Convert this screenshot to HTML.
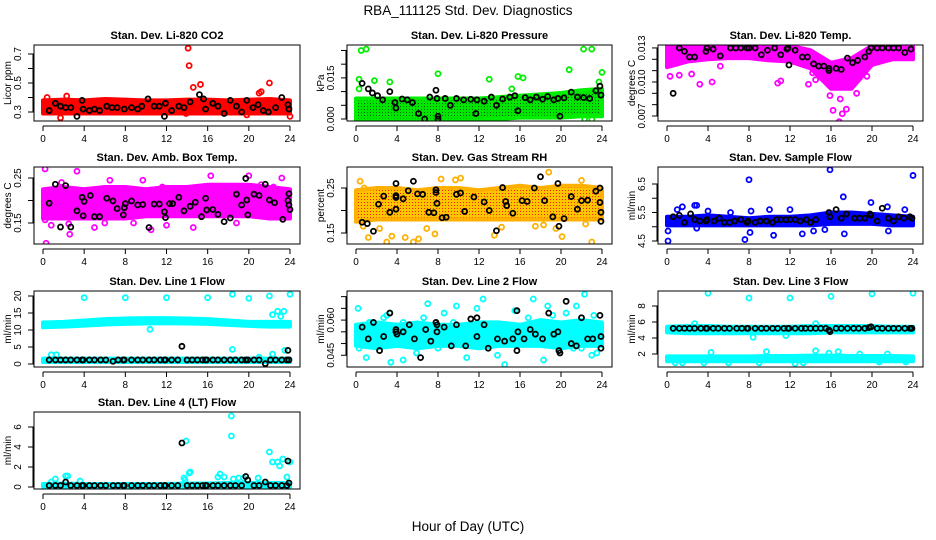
<!DOCTYPE html>
<html><head><meta charset="utf-8"><style>
html,body{margin:0;padding:0;background:#fff;}
svg{display:block;font-family:"Liberation Sans",Arial,sans-serif;}
</style></head><body>
<svg id="chart" width="936" height="540" viewBox="0 0 936 540">
<defs>
<pattern id="pat-green" width="3" height="3" patternUnits="userSpaceOnUse"><rect width="3" height="3" fill="#00e600"/><rect x="1" y="1" width="1" height="1" fill="#006600"/></pattern>
<pattern id="pat-rh" width="3" height="3" patternUnits="userSpaceOnUse"><rect width="3" height="3" fill="#ffc400"/><rect x="1" y="1" width="1" height="1" fill="#ff2000"/></pattern>
</defs>
<text x="468" y="15" font-size="13.5" text-anchor="middle">RBA_111125  Std. Dev. Diagnostics</text>
<text x="468" y="531" font-size="13.5" text-anchor="middle">Hour of Day (UTC)</text>
</svg>
<script>
const bandHours = [0,2,4,6,8,10,12,14,16,18,20,22,24];
const xTicks = [0,4,8,12,16,20,24];
const blackHours = [0.6,1.2,1.7,2.2,2.7,3.3,3.8,3.9,4.5,5.0,5.6,6.1,6.8,7.3,7.8,7.9,8.6,9.2,9.7,10.3,10.8,11.4,11.8,11.9,12.5,13.1,13.5,14.0,14.5,15.0,15.5,15.8,15.9,16.5,17.0,17.6,18.2,18.7,19.3,19.7,19.9,20.5,21.0,21.6,22.1,22.6,23.2,23.7,23.8,23.9];

// CO2
const co2Lo = [0.29,0.29,0.29,0.29,0.29,0.29,0.29,0.29,0.29,0.29,0.29,0.29,0.29];
const co2Hi = [0.38,0.385,0.38,0.39,0.385,0.38,0.38,0.385,0.385,0.38,0.385,0.39,0.38];
const co2OutX = [14.1,14.2,14.6,15.3,22.0,21.0,21.2,0.4,1.7,2.3,24.0,13.9,19.8];
const co2OutY = [0.74,0.62,0.47,0.49,0.50,0.43,0.44,0.40,0.26,0.41,0.27,0.29,0.28];
const co2BlkX = [0.6,1.2,1.7,2.2,2.7,3.3,3.8,3.9,4.5,5,5.5,6.2,6.7,7.2,7.9,8.6,9.2,9.6,10.2,10.8,11.3,11.8,11.9,12.5,13.2,13.7,14.3,15.2,15.6,15.8,16.5,17,17.6,18.2,18.8,19.3,19.8,20.4,20.9,21.4,21.9,22.6,23.2,23.8,23.9];
const co2BlkY = [0.31,0.36,0.34,0.33,0.33,0.27,0.38,0.32,0.31,0.32,0.31,0.34,0.33,0.33,0.32,0.33,0.32,0.34,0.39,0.34,0.34,0.27,0.36,0.31,0.34,0.33,0.37,0.42,0.39,0.32,0.36,0.34,0.29,0.38,0.34,0.30,0.38,0.33,0.35,0.31,0.30,0.33,0.40,0.35,0.32];

// Pressure
const presLo = [-0.0005,-0.0005,-0.0005,-0.0005,-0.0005,-0.0005,-0.0005,0.0,0.0005,0.0005,0.0005,0.001,0.001];
const presHi = [0.0075,0.0075,0.0075,0.0075,0.0075,0.0075,0.0075,0.008,0.0085,0.009,0.0095,0.0105,0.011];
const presOutX = [0.5,1.0,0.3,0.3,1.8,3.3,8.0,13.0,15.2,15.8,16.3,20.8,22.2,23.0,24.0,23.7,22.3,23.0];
const presOutY = [0.025,0.0255,0.0145,0.011,0.014,0.0135,0.0165,0.0145,0.011,0.0155,0.015,0.018,0.0255,0.0255,0.017,0.0135,0.0,0.0];
const presBlkX = [0.6,1.2,1.6,2.1,2.6,3.3,3.8,3.9,4.5,5.0,5.5,6.1,6.7,7.2,7.8,7.9,8.0,8.0,8.7,9.2,9.8,10.5,11.2,11.7,11.8,12.5,13.2,13.7,14.3,15.0,15.5,15.8,16.5,17.0,17.6,18.2,18.7,19.3,19.7,19.9,20.3,21.0,21.6,22.2,22.8,23.4,23.8,23.9];
const presBlkY = [0.013,0.011,0.0095,0.0085,0.007,0.01,0.006,0.004,0.0073,0.007,0.006,0.002,0.0,0.008,0.0105,0.0075,0.001,0.0,0.0075,0.005,0.0075,0.007,0.0072,0.002,0.007,0.0065,0.008,0.005,0.0073,0.008,0.0085,0.003,0.0078,0.007,0.008,0.0072,0.0082,0.007,0.0075,0.001,0.0077,0.0098,0.008,0.0078,0.0075,0.0103,0.012,0.0087];

// Li-820 Temp
const tempLo = [0.0113,0.0118,0.012,0.0121,0.0121,0.0119,0.0118,0.0112,0.0094,0.0094,0.0115,0.012,0.012];
const tempHi = [0.0132,0.0132,0.0132,0.0132,0.0132,0.0132,0.0132,0.0128,0.0117,0.0121,0.0132,0.0132,0.0132];
const tempOutX = [0.3,1.2,2.4,3.2,4.4,5.2,14.2,13.8,14.5,16.2,16.8,17.1,17.5,11.1,10.8,19.5,15.9,16.9,18.5];
const tempOutY = [0.0105,0.0106,0.0107,0.0098,0.0100,0.0114,0.0108,0.0098,0.0102,0.0075,0.0065,0.0072,0.0076,0.0101,0.0099,0.0105,0.0088,0.0085,0.0090];
const tempBlkX = [0.6,1.2,1.7,2.2,2.7,3.8,3.9,4.5,5.2,6.2,6.7,7.2,7.8,8.0,8.6,9.2,9.8,10.5,11.1,11.7,11.8,11.9,12.5,13.2,13.7,14.3,14.8,15.3,15.8,15.8,16.5,17.0,17.6,18.1,18.6,19.3,19.7,19.9,20.5,21.0,21.6,22.1,22.6,23.2,23.8];
const tempBlkY = [0.0090,0.0130,0.0127,0.0122,0.0122,0.0127,0.0130,0.0129,0.0123,0.0130,0.0130,0.0130,0.0130,0.0130,0.0130,0.0124,0.0128,0.0130,0.0124,0.0129,0.0130,0.0115,0.0128,0.0122,0.0122,0.0116,0.0114,0.0114,0.0112,0.0110,0.0112,0.0111,0.0121,0.0117,0.0119,0.0122,0.0127,0.0130,0.0130,0.0130,0.0130,0.0130,0.0130,0.0126,0.0129];

// Amb box temp
const ambLo = [0.16,0.16,0.16,0.16,0.16,0.165,0.165,0.165,0.165,0.165,0.165,0.16,0.16];
const ambHi = [0.225,0.23,0.225,0.23,0.23,0.225,0.23,0.23,0.235,0.235,0.235,0.23,0.225];
const ambOutX = [0.2,3.3,0.2,0.3,0.8,1.8,2.6,2.5,5.0,6.0,6.5,8.8,9.7,10.5,11.6,12.0,14.6,16.3,18.8,21.2,22.4,23.2,20.0];
const ambOutY = [0.27,0.265,0.157,0.105,0.145,0.24,0.125,0.148,0.14,0.15,0.245,0.15,0.245,0.135,0.23,0.145,0.14,0.255,0.15,0.235,0.23,0.25,0.255];
const ambBlkX = [0.6,1.2,1.7,2.2,2.7,3.3,3.8,3.9,4.0,4.6,5.0,5.5,6.2,6.8,7.2,7.8,7.9,8.0,8.6,9.2,9.7,10.3,10.8,11.3,11.8,11.9,12.3,12.6,13.2,13.7,14.3,14.8,15.4,15.8,15.9,16.5,17.0,17.6,18.2,18.8,19.3,19.7,19.8,19.9,20.5,21.0,21.6,22.0,22.5,23.3,23.8,23.9,24.0,23.9];
const ambBlkY = [0.194,0.236,0.141,0.233,0.141,0.177,0.207,0.166,0.198,0.211,0.164,0.164,0.205,0.199,0.182,0.168,0.184,0.193,0.199,0.19,0.191,0.14,0.192,0.192,0.175,0.162,0.193,0.193,0.207,0.177,0.187,0.196,0.164,0.205,0.179,0.18,0.169,0.153,0.161,0.214,0.19,0.249,0.201,0.168,0.214,0.211,0.236,0.201,0.195,0.158,0.2,0.19,0.18,0.215];

// Gas stream RH
const rhLo = [0.175,0.18,0.18,0.18,0.18,0.18,0.18,0.18,0.18,0.18,0.18,0.18,0.18];
const rhHi = [0.245,0.25,0.25,0.245,0.25,0.25,0.245,0.25,0.255,0.25,0.255,0.255,0.25];
const rhOutX = [0.4,0.8,1.2,3.0,3.5,4.8,5.6,6.1,6.9,7.7,8.3,9.7,10.2,13.5,14.2,17.5,18.3,18.8,19.5,20.1,22.4,23.0,22.0,0.7,2.3];
const rhOutY = [0.265,0.25,0.14,0.13,0.143,0.14,0.13,0.137,0.16,0.148,0.27,0.268,0.272,0.145,0.163,0.165,0.168,0.285,0.16,0.142,0.17,0.13,0.267,0.165,0.16];
const rhBlkX = [0.6,1.1,1.7,2.2,2.7,3.3,3.9,3.9,3.9,3.9,4.6,5.1,5.6,6.0,6.5,7.1,7.6,7.8,7.8,7.9,8.4,8.8,9.8,10.2,10.6,11.5,12.5,13.0,13.7,14.3,14.6,14.7,15.3,16.2,16.7,17.4,18.0,18.4,19.2,19.7,19.8,20.3,21.0,21.6,22.0,22.6,23.4,23.8,23.8,23.9,23.9];
const rhBlkY = [0.174,0.171,0.154,0.214,0.232,0.196,0.26,0.233,0.229,0.203,0.226,0.244,0.265,0.237,0.236,0.196,0.195,0.246,0.24,0.216,0.184,0.185,0.236,0.239,0.198,0.23,0.219,0.2,0.155,0.251,0.22,0.211,0.194,0.222,0.22,0.25,0.275,0.222,0.186,0.26,0.165,0.182,0.231,0.203,0.222,0.223,0.243,0.25,0.218,0.196,0.176];

// Sample flow
const sfLo = [5.05,5.05,5.05,5.05,5.05,5.05,5.05,5.05,5.1,5.1,5.1,5.05,5.05];
const sfHi = [5.35,5.35,5.4,5.35,5.3,5.35,5.35,5.4,5.5,5.5,5.45,5.4,5.35];
const sfOutX = [0.1,0.1,1.0,1.5,2.7,2.9,2.9,4.0,6.2,7.6,8.0,8.2,8.1,10.4,10.0,12.0,13.2,15.9,17.2,17.3,19.9,21.5,21.6,23.2,24.0,15.4,14.3];
const sfOutY = [4.5,4.85,5.6,5.7,5.75,5.75,4.95,5.55,5.5,4.55,6.65,5.55,4.8,4.7,5.6,5.6,4.75,7.0,6.05,4.75,5.85,5.7,4.85,5.6,6.8,4.9,4.85];
const sfBlkX = [0.6,1.2,1.7,2.3,2.7,3.2,3.8,3.9,4.6,5.1,5.6,6.1,6.6,7.2,7.8,7.9,8.6,9.1,9.7,10.3,10.7,11.1,11.6,12.0,12.5,13.0,13.6,14.0,14.5,15.8,15.9,16.5,17.0,17.5,18.3,18.8,19.3,19.8,19.9,20.5,21.0,21.6,22.1,22.6,23.1,23.7,23.9];
const sfBlkY = [5.35,5.4,5.15,5.45,5.25,5.2,5.2,5.25,5.2,5.3,5.15,5.15,5.2,5.25,5.15,5.2,5.15,5.2,5.2,5.15,5.25,5.25,5.25,5.25,5.25,5.2,5.25,5.15,5.25,5.5,5.35,5.6,5.3,5.45,5.3,5.3,5.3,5.45,5.4,5.2,5.65,5.3,5.2,5.35,5.3,5.35,5.3];

// Line 1 flow
const l1UpLo = [10.8,11.0,11.3,11.6,11.8,11.9,12.0,11.9,11.8,11.5,11.2,11.0,11.0];
const l1UpHi = [12.2,12.4,12.8,13.2,13.4,13.5,13.5,13.4,13.2,12.8,12.4,12.4,12.4];
const l1DnLo = [0.6,0.6,0.6,0.6,0.6,0.6,0.6,0.6,0.6,0.6,0.6,0.6,0.6];
const l1DnHi = [1.6,1.6,1.6,1.6,1.6,1.6,1.6,1.6,1.6,1.6,1.6,1.6,1.6];
const l1OutX = [4,8,12,16,18.4,20,22,24,10.4,22.3,22.8,23.1,23.4,18.4,22.3,0.8,1.3,23.5,21.0];
const l1OutY = [19.5,19.5,19.5,19.5,20.5,19.3,20,20.5,10.2,14.5,15.5,14,15.5,4.3,2.9,2.7,2.7,4.0,2.0];
const l1BlkY = [1.2,1.2,1.2,1.2,1.2,1.2,1.2,1.2,1.2,1.2,1.2,1.2,0.8,1.2,1.2,1.2,1.2,1.2,1.2,1.2,1.2,1.2,1.2,1.2,1.2,1.2,5.2,1.2,1.2,1.2,1.2,1.2,1.2,1.2,1.2,1.2,1.2,1.2,1.2,1.2,1.2,1.2,1.2,0.1,1.2,1.2,1.2,1.2,4.0,1.2];

// Line 2 flow
const l2Lo = [0.049,0.048,0.049,0.048,0.049,0.049,0.048,0.049,0.049,0.049,0.048,0.049,0.049];
const l2Hi = [0.058,0.059,0.058,0.059,0.058,0.058,0.059,0.059,0.058,0.06,0.059,0.06,0.059];
const l2OutX = [0.2,0.3,1.0,1.3,2.7,3.0,3.3,3.4,4.6,4.6,6.6,7.0,8.6,9.5,9.8,11.8,12.4,13.8,14.5,15.5,16.8,17.3,18.7,19.2,19.8,20.5,21.2,21.5,22.0,22.3,23.2,23.5,23.0,18.3,10.8,5.9,0.8,2.0,8.0];
const l2OutY = [0.065,0.048,0.044,0.059,0.061,0.062,0.063,0.042,0.043,0.059,0.061,0.067,0.063,0.059,0.066,0.065,0.069,0.045,0.041,0.064,0.061,0.069,0.066,0.062,0.047,0.063,0.048,0.066,0.048,0.071,0.062,0.046,0.045,0.043,0.044,0.046,0.052,0.055,0.048];
const l2BlkX = [0.6,1.2,1.7,2.3,2.7,3.3,3.9,3.9,4.0,4.6,5.2,5.7,6.3,6.8,7.3,7.8,7.9,7.9,8.6,9.3,9.8,10.7,11.2,11.8,11.8,12.5,12.9,13.8,14.5,15.3,15.7,15.7,15.8,16.4,17.0,17.5,18.2,18.8,19.3,19.7,19.8,19.9,20.5,21.0,21.5,22.0,22.6,23.1,23.8,23.9,23.9];
const l2BlkY = [0.057,0.052,0.059,0.047,0.053,0.063,0.056,0.055,0.054,0.055,0.058,0.052,0.044,0.056,0.051,0.059,0.058,0.055,0.057,0.049,0.058,0.049,0.0605,0.061,0.053,0.058,0.048,0.052,0.051,0.052,0.064,0.047,0.055,0.052,0.056,0.054,0.052,0.063,0.054,0.055,0.047,0.046,0.068,0.05,0.049,0.061,0.052,0.052,0.062,0.053,0.048];

// Line 3 flow
const l3UpLo = [4.7,4.6,4.6,4.6,4.6,4.6,4.6,4.6,4.7,4.7,4.7,4.7,4.7];
const l3UpHi = [5.4,5.5,5.5,5.4,5.4,5.4,5.4,5.5,5.5,5.5,5.5,5.4,5.4];
const l3DnLo = [1.1,1.1,1.1,1.1,1.1,1.1,1.1,1.1,1.1,1.1,1.1,1.1,1.1];
const l3DnHi = [1.7,1.7,1.7,1.7,1.7,1.75,1.75,1.8,1.8,1.75,1.75,1.75,1.7];
const l3OutX = [4,8,12,16,20,24,2.7,8.4,11.6,14.5,4.3,9.7,14.5,16.7,18.8,21.5,3.6,0.8,1.5,6.0,9.0,12.5,13.3,20.7,23.3,15.8];
const l3OutY = [9.6,9.0,9.0,9.2,9.5,9.6,5.8,4.1,4.3,5.8,2.2,2.3,2.4,2.3,2.0,2.0,0.9,0.9,0.9,0.9,0.9,0.8,0.9,1.0,1.0,2.1];
const l3BlkY = [5.2,5.2,5.2,5.2,5.2,5.2,5.2,5.2,5.2,5.2,5.2,5.2,5.2,5.2,5.2,5.2,5.2,5.2,5.2,5.2,5.2,5.2,5.2,5.2,5.2,5.2,5.2,5.2,5.2,5.2,5.2,5.0,4.8,5.2,5.2,5.2,5.2,5.2,5.2,5.3,5.4,5.2,5.2,5.2,5.2,5.2,5.2,5.2,5.2,5.2];

// Line 4 flow
const l4Lo = [0,0,0,0,0,0,0,0,0,0,0,0,0];
const l4Hi = [0.3,0.35,0.3,0.3,0.3,0.3,0.3,0.35,0.35,0.4,0.4,0.4,0.4];
const l4OutX = [13.9,18.3,18.3,22.0,22.3,22.8,23.0,23.3,24.0,14.2,14.3,13.7,13.8,2.2,2.4,17.2,17.6,17.0,18.5,19.0,19.5,20.9,3.6,1.2,0.8,23.7];
const l4OutY = [4.6,7.1,5.1,3.5,2.5,2.5,2.1,2.8,2.5,1.4,1.5,0.9,0.7,1.1,1.1,1.3,1.0,1.0,0.8,0.9,0.9,0.9,0.6,0.8,0.5,1.0];
const l4BlkY = [0.15,0.15,0.15,0.5,0.15,0.15,0.15,0.15,0.15,0.15,0.15,0.15,0.15,0.15,0.15,0.15,0.15,0.15,0.15,0.15,0.15,0.15,0.15,0.15,0.15,0.15,4.4,0.15,0.15,0.15,0.15,0.15,0.15,0.15,0.15,0.15,0.15,0.15,0.15,1.05,0.7,0.15,0.15,0.5,0.15,0.15,0.15,0.15,2.6,0.4];

// tick values / labels
const co2Ticks = [0.3,0.4,0.5,0.6,0.7], co2Labels = ["0.3","","0.5","","0.7"];
const presTicks = [0,0.005,0.01,0.015,0.02,0.025], presLabels = ["0.000","","","0.015","",""];
const tempTicks = [0.007,0.008,0.009,0.010,0.011,0.012,0.013], tempLabels = ["0.007","","","0.010","","","0.013"];
const ambTicks = [0.15,0.2,0.25], ambLabels = ["0.15","","0.25"];
const rhTicks = [0.15,0.2,0.25], rhLabels = ["0.15","","0.25"];
const sfTicks = [4.5,5,5.5,6,6.5], sfLabels = ["4.5","","5.5","","6.5"];
const l1Ticks = [0,5,10,15,20], l1Labels = ["0","5","10","15","20"];
const l2Ticks = [0.045,0.05,0.055,0.06,0.065,0.07], l2Labels = ["0.045","","","0.060","",""];
const l3Ticks = [2,4,6,8], l3Labels = ["2","4","6","8"];
const l4Ticks = [0,2,4,6], l4Labels = ["0","2","4","6"];

const NS = "http://www.w3.org/2000/svg";
const svg = document.getElementById("chart");
function mk(tag, attrs, parent){const e=document.createElementNS(NS,tag);for(const k in attrs)e.setAttribute(k,attrs[k]);(parent||svg).appendChild(e);return e;}

const colL=[34,347,658], colR=[300,612,923];
const rowT=[45,167,291,412], rowB=[121,244,367,489];

const panels = [
 {key:"co2",title:"Stan. Dev. Li-820 CO2",ylab:"Licor ppm",c:0,r:0,ylim:[0.238,0.762],ticks:co2Ticks,labels:co2Labels,col:"#ff0000",bands:[[co2Lo,co2Hi]],ox:co2OutX,oy:co2OutY,bx:co2BlkX,by:co2BlkY},
 {key:"pressure",title:"Stan. Dev. Li-820 Pressure",ylab:"kPa",c:1,r:0,ylim:[-0.00073,0.0270],ticks:presTicks,labels:presLabels,col:"#00ee00",fill:"url(#pat-green)",bands:[[presLo,presHi]],ox:presOutX,oy:presOutY,bx:presBlkX,by:presBlkY},
 {key:"li820-temp",title:"Stan. Dev. Li-820 Temp.",ylab:"degrees C",c:2,r:0,ylim:[0.00656,0.01326],ticks:tempTicks,labels:tempLabels,col:"#ff00ff",bands:[[tempLo,tempHi]],ox:tempOutX,oy:tempOutY,bx:tempBlkX,by:tempBlkY},
 {key:"amb-box-temp",title:"Stan. Dev. Amb. Box Temp.",ylab:"degrees C",c:0,r:1,ylim:[0.1033,0.2744],ticks:ambTicks,labels:ambLabels,col:"#ff00ff",bands:[[ambLo,ambHi]],ox:ambOutX,oy:ambOutY,bx:ambBlkX,by:ambBlkY},
 {key:"gas-stream-rh",title:"Stan. Dev. Gas Stream RH",ylab:"percent",c:1,r:1,ylim:[0.1256,0.2967],ticks:rhTicks,labels:rhLabels,col:"#ffb000",fill:"url(#pat-rh)",bands:[[rhLo,rhHi]],ox:rhOutX,oy:rhOutY,bx:rhBlkX,by:rhBlkY},
 {key:"sample-flow",title:"Stan. Dev. Sample Flow",ylab:"ml/min",c:2,r:1,ylim:[4.395,7.096],ticks:sfTicks,labels:sfLabels,col:"#0000ff",bands:[[sfLo,sfHi]],ox:sfOutX,oy:sfOutY,bx:sfBlkX,by:sfBlkY},
 {key:"line1-flow",title:"Stan. Dev. Line 1 Flow",ylab:"ml/min",c:0,r:2,ylim:[-0.88,21.47],ticks:l1Ticks,labels:l1Labels,col:"#00ffff",bands:[[l1UpLo,l1UpHi],[l1DnLo,l1DnHi]],ox:l1OutX,oy:l1OutY,bx:blackHours,by:l1BlkY},
 {key:"line2-flow",title:"Stan. Dev. Line 2 Flow",ylab:"ml/min",c:1,r:2,ylim:[0.0400,0.0724],ticks:l2Ticks,labels:l2Labels,col:"#00ffff",bands:[[l2Lo,l2Hi]],ox:l2OutX,oy:l2OutY,bx:l2BlkX,by:l2BlkY},
 {key:"line3-flow",title:"Stan. Dev. Line 3 Flow",ylab:"ml/min",c:2,r:2,ylim:[0.375,9.875],ticks:l3Ticks,labels:l3Labels,col:"#00ffff",bands:[[l3UpLo,l3UpHi],[l3DnLo,l3DnHi]],ox:l3OutX,oy:l3OutY,bx:blackHours,by:l3BlkY},
 {key:"line4-flow",title:"Stan. Dev. Line 4 (LT) Flow",ylab:"ml/min",c:0,r:3,ylim:[-0.2,7.5],ticks:l4Ticks,labels:l4Labels,col:"#00ffff",bands:[[l4Lo,l4Hi]],ox:l4OutX,oy:l4OutY,bx:blackHours,by:l4BlkY}
];

panels.forEach(p=>{
  const L=colL[p.c],R=colR[p.c],T=rowT[p.r],B=rowB[p.r];
  const sx=h=>L+9+h*(R-L-19)/24;
  const sy=v=>B-(v-p.ylim[0])*(B-T)/(p.ylim[1]-p.ylim[0]);
  const g=mk("g",{});
  
  
  const clipId="clip-"+p.key;
  const cp=mk("clipPath",{id:clipId},g);
  mk("rect",{x:L,y:T,width:R-L,height:B-T},cp);
  const plot=mk("g",{"clip-path":"url(#"+clipId+")"},g);
  p.bands.forEach((b,bi)=>{
    let pts=[];
    bandHours.forEach((h,i)=>pts.push(sx(h)+","+sy(b[1][i])));
    for(let i=bandHours.length-1;i>=0;i--)pts.push(sx(bandHours[i])+","+sy(b[0][i]));
    const poly=mk("polygon",{points:pts.join(" "),fill:p.fill||p.col,stroke:p.col,"stroke-width":4,"stroke-linejoin":"round"},plot);
    
    
  });
  p.ox.forEach((h,i)=>{
    const c=mk("circle",{cx:sx(h),cy:sy(p.oy[i]),r:2.5,fill:"none",stroke:p.col,"stroke-width":1.8},plot);
    
    
  });
  p.bx.forEach((h,i)=>{
    const c=mk("circle",{cx:sx(h),cy:sy(p.by[i]),r:2.5,fill:"none",stroke:"#000","stroke-width":1.8},plot);
    
    
  });
  const box=mk("rect",{x:L,y:T,width:R-L,height:B-T,fill:"none",stroke:"#000","stroke-width":1},g);
  
  
  const ax=B+5;
  mk("line",{x1:sx(0),x2:sx(24),y1:ax,y2:ax,stroke:"#000","stroke-width":1},g);
  xTicks.forEach(t=>{
    mk("line",{x1:sx(t),x2:sx(t),y1:ax,y2:ax+5,stroke:"#000","stroke-width":1},g);
    const tx=mk("text",{x:sx(t),y:B+21,"font-size":10,"text-anchor":"middle"},g);
    tx.textContent=t;
    
    
  });
  const y0=sy(p.ticks[0]),y1=sy(p.ticks[p.ticks.length-1]);
  mk("line",{x1:L-1,x2:L-1,y1:y0,y2:y1,stroke:"#000","stroke-width":1},g);
  p.ticks.forEach((t,i)=>{
    const yy=sy(t);
    mk("line",{x1:L-6,x2:L,y1:yy,y2:yy,stroke:"#000","stroke-width":1},g);
    if(p.labels[i]){
      const tx=mk("text",{x:0,y:0,"font-size":10,"text-anchor":"middle",transform:"translate("+(L-13)+","+yy+") rotate(-90)"},g);
      tx.textContent=p.labels[i];
      
      
    }
  });
  const yl=mk("text",{x:0,y:0,"font-size":10,"text-anchor":"middle",transform:"translate("+(L-23)+","+((T+B)/2)+") rotate(-90)"},g);
  yl.textContent=p.ylab;
  
  
  const ti=mk("text",{x:(L+R)/2,y:T-6,"font-size":11,"font-weight":"bold","text-anchor":"middle"},g);
  ti.textContent=p.title;
  
  
});
</script>
</body></html>
